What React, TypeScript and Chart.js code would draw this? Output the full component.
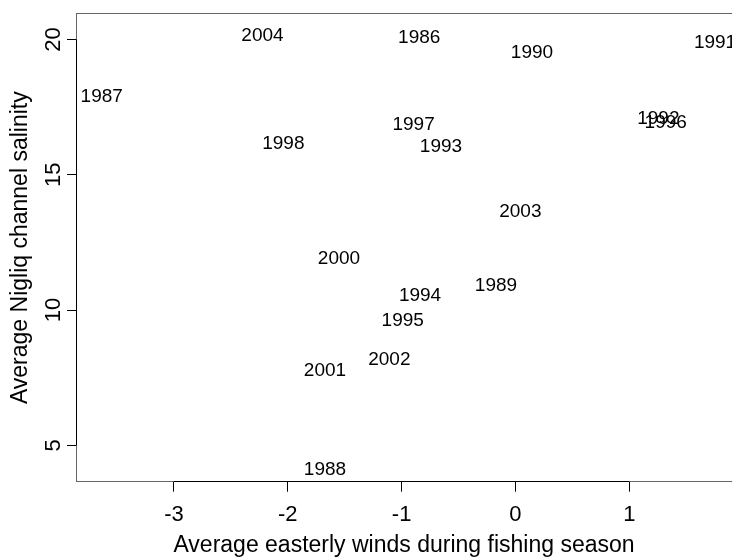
import React, { useEffect, useRef } from 'react';
import { Chart, registerables } from 'chart.js';

Chart.register(...registerables);

const years = ['1986', '1987', '1988', '1989', '1990', '1991', '1992', '1993', '1994', '1995', '1996', '1997', '1998', '2000', '2001', '2002', '2003', '2004'];
const easterlyWinds = [-0.845, -3.634, -1.673, -0.171, 0.145, 1.753, 1.255, -0.654, -0.838, -0.99, 1.32, -0.895, -2.039, -1.55, -1.673, -1.108, 0.043, -2.222];
const salinity = [20.12, 17.95, 4.15, 10.96, 19.57, 19.94, 17.11, 16.1, 10.58, 9.66, 16.99, 16.89, 16.19, 11.95, 7.8, 8.24, 13.7, 20.2];
const xTicks = [-3, -2, -1, 0, 1];
const yTicks = [5, 10, 15, 20];
const xTitle = 'Average easterly winds during fishing season';
const yTitle = 'Average Nigliq channel salinity';

const FONT = '"Liberation Sans", Arial, Helvetica, sans-serif';
const LABEL_SIZE = 19;

const yearLabels = {
  id: 'yearLabels',
  afterDatasetsDraw(chart: any) {
    const { ctx, chartArea } = chart;
    const meta = chart.getDatasetMeta(0);
    ctx.save();
    ctx.beginPath();
    ctx.rect(chartArea.left, chartArea.top, chartArea.right - chartArea.left, chartArea.bottom - chartArea.top);
    ctx.clip();
    ctx.font = `${LABEL_SIZE}px ${FONT}`;
    ctx.fillStyle = '#000';
    ctx.textAlign = 'center';
    ctx.textBaseline = 'alphabetic';
    meta.data.forEach((pt: any, i: number) => {
      ctx.fillText(years[i], pt.x, pt.y + LABEL_SIZE * 0.358);
    });
    ctx.restore();
  },
};

const frame = {
  id: 'frame',
  afterDraw(chart: any) {
    const { ctx, chartArea, scales } = chart;
    ctx.save();
    ctx.lineWidth = 1;
    ctx.strokeStyle = '#666';
    const top = Math.round(chartArea.top - 0.5) + 0.5;
    ctx.beginPath();
    ctx.moveTo(chartArea.left, top);
    ctx.lineTo(chartArea.right, top);
    ctx.stroke();
    ctx.strokeStyle = '#000';
    const by = Math.round(chartArea.bottom - 0.5) + 0.5;
    ctx.beginPath();
    ctx.moveTo(scales.x.getPixelForValue(xTicks[0]), by);
    ctx.lineTo(scales.x.getPixelForValue(xTicks[xTicks.length - 1]), by);
    ctx.stroke();
    const lx = Math.round(chartArea.left - 0.5) + 0.5;
    ctx.beginPath();
    ctx.moveTo(lx, scales.y.getPixelForValue(yTicks[0]));
    ctx.lineTo(lx, scales.y.getPixelForValue(yTicks[yTicks.length - 1]));
    ctx.stroke();
    ctx.restore();
  },
};

export default function App() {
  const ref = useRef<HTMLCanvasElement | null>(null);

  useEffect(() => {
    if (!ref.current) return;
    const chart = new Chart(ref.current, {
      type: 'scatter',
      data: {
        datasets: [
          {
            data: years.map((_, i) => ({ x: easterlyWinds[i], y: salinity[i] })),
            pointRadius: 0,
            pointHoverRadius: 0,
            showLine: false,
          },
        ],
      },
      options: {
        animation: false,
        responsive: false,
        devicePixelRatio: 1,
        layout: { padding: { top: 12.5, left: 0, right: 0, bottom: 0 } },
        plugins: { legend: { display: false }, tooltip: { enabled: false } },
        scales: {
          x: {
            type: 'linear',
            min: -3.86,
            max: 1.902,
            afterBuildTicks: (s: any) => {
              s.ticks = xTicks.map((v) => ({ value: v }));
            },
            afterFit: (s: any) => {
              s.height = 77.3;
            },
            grid: { drawOnChartArea: false, drawTicks: true, tickLength: 10, color: '#000' },
            border: { display: true, color: '#666', width: 1 },
            ticks: { color: '#000', font: { family: FONT, size: 22 }, padding: 10, minRotation: 0, maxRotation: 0, autoSkip: false },
            title: { display: true, text: xTitle, color: '#000', font: { family: FONT, size: 23 }, padding: 0 },
          },
          y: {
            type: 'linear',
            min: 3.6585,
            max: 20.951,
            afterBuildTicks: (s: any) => {
              s.ticks = yTicks.map((v) => ({ value: v }));
            },
            afterFit: (s: any) => {
              s.width = 76;
            },
            grid: { drawOnChartArea: false, drawTicks: true, tickLength: 9, color: '#000' },
            border: { display: true, color: '#666', width: 1 },
            ticks: { color: '#000', font: { family: FONT, size: 22 }, padding: 0.5, minRotation: 90, maxRotation: 90, crossAlign: 'center', autoSkip: false },
            title: { display: true, text: yTitle, color: '#000', font: { family: FONT, size: 23 }, padding: { top: 7, bottom: 0 } },
          },
        },
      } as any,
      plugins: [yearLabels, frame],
    });
    return () => chart.destroy();
  }, []);

  return (
    <div style={{ position: 'fixed', left: 0, top: 0, width: 732, height: 559, overflow: 'hidden', background: '#fff' }}>
      <canvas ref={ref} width={732} height={559} style={{ display: 'block', width: 732, height: 559 }} />
    </div>
  );
}
